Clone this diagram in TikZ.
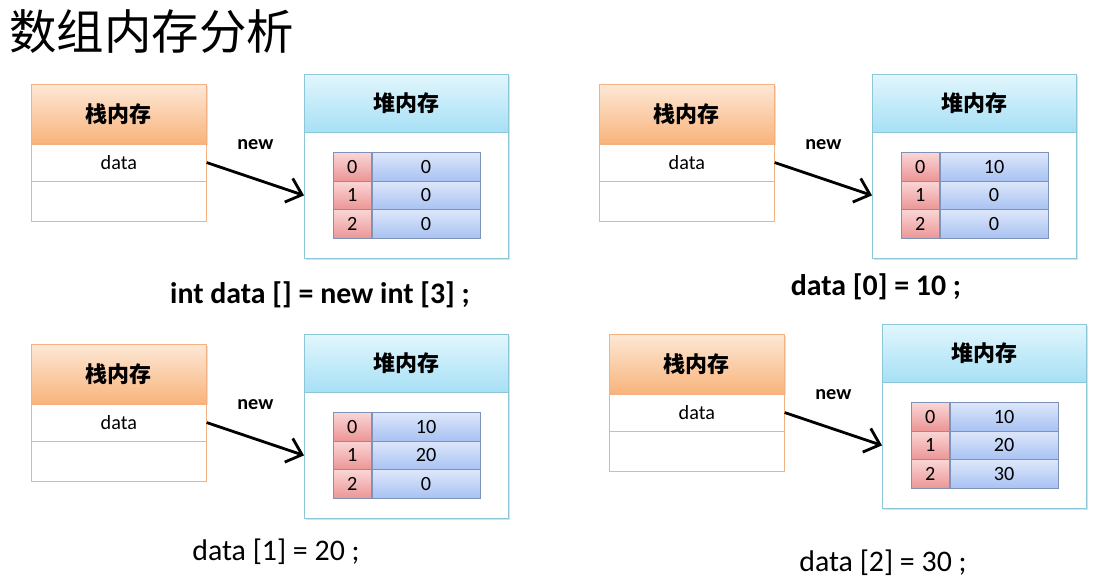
\documentclass[tikz,border=0pt]{standalone}
\usepackage{fontspec}
\setmainfont{Carlito}
\newfontfamily\cjk{Noto Sans CJK SC}
\usetikzlibrary{positioning,arrows.meta,shadows}

\definecolor{stackline}{HTML}{F4B183}
\definecolor{stacktop}{HTML}{FDE8D6}
\definecolor{stackbot}{HTML}{F8B47C}
\definecolor{heapline}{HTML}{8CC6D8}
\definecolor{heaptop}{HTML}{E2F6FD}
\definecolor{heapbot}{HTML}{A6E0F5}
\definecolor{cellline}{HTML}{7F93B8}
\definecolor{idxtop}{HTML}{FAD6D6}
\definecolor{idxbot}{HTML}{EC9595}
\definecolor{valtop}{HTML}{DDE7FB}
\definecolor{valbot}{HTML}{A8C2F2}

\tikzset{
	boxshadow/.style={drop shadow={shadow xshift=1.2pt, shadow yshift=-1.2pt, opacity=0.25}},
	stackhead/.style={draw=stackline, top color=stacktop, bottom color=stackbot, minimum width=3.5cm, minimum height=1.18cm, inner sep=0pt, font=\cjk\bfseries\fontsize{12.5}{14}\selectfont},
	stackrow/.style={draw=stackline, fill=white, minimum width=3.5cm, minimum height=0.74cm, inner sep=0pt, font=\fontsize{11.5}{13}\selectfont},
	heapbox/.style={draw=heapline, fill=white, boxshadow, minimum width=4.08cm, minimum height=3.68cm, inner sep=0pt},
	heaphead/.style={draw=heapline, top color=heaptop, bottom color=heapbot, minimum width=4.08cm, minimum height=1.16cm, inner sep=0pt, font=\cjk\bfseries\fontsize{12.5}{14}\selectfont},
	idxcell/.style={draw=cellline, top color=idxtop, bottom color=idxbot, minimum width=0.76cm, minimum height=0.574cm, inner sep=0pt, font=\fontsize{11.5}{13}\selectfont},
	valcell/.style={draw=cellline, top color=valtop, bottom color=valbot, minimum width=2.16cm, minimum height=0.574cm, inner sep=0pt, font=\fontsize{11.5}{13}\selectfont},
	newarrow/.style={line width=1.6pt, -{Straight Barb[length=2.8mm,width=5mm]}},
	newlbl/.style={font=\bfseries\fontsize{11.5}{13}\selectfont, inner sep=1pt},
	codelbl/.style={font=\fontsize{17}{20}\selectfont, inner sep=0pt},
	titlelbl/.style={font=\cjk\fontsize{27}{30}\selectfont, inner sep=0pt}
}

\begin{document}
\begin{tikzpicture}[x=0.02cm, y=-0.02cm]
\fill[white] (0,0) rectangle (1093,582);
\useasboundingbox (0,0) rectangle (1093,582);

\node[titlelbl, anchor=west] (title) at (9,32) {数组内存分析};

% one panel per step: stack, heap with array, arrow
\foreach \px/\py/\va/\vb/\vc/\pn in {31/84/0/0/0/a, 599/84/10/0/0/b, 31/344/10/20/0/c, 609/334/10/20/30/d} {
	\node[heapbox, anchor=north west] (hb\pn) at (\px+273,\py-10) {};
	\node[heaphead, anchor=north west] (hh\pn) at (hb\pn.north west) {堆内存};
	\foreach \rw/\val in {0/\va,1/\vb,2/\vc} {
		\node[idxcell, anchor=north west] (i\pn\rw) at (\px+302,\py+68+28.7*\rw) {\rw};
		\node[valcell, right=0pt of i\pn\rw] (v\pn\rw) {\val};
	}
	\node[stackhead, boxshadow, anchor=north west] (sh\pn) at (\px,\py) {栈内存};
	\node[stackrow, below=0pt of sh\pn] (sd\pn) {data};
	\node[stackrow, below=0pt of sd\pn, minimum height=0.8cm] (se\pn) {};
	\draw[newarrow] (sd\pn.east) -- (hb\pn.west |- i\pn1.center) node[newlbl, midway, above=0.52cm] {new};
}

\node[codelbl, font=\bfseries\fontsize{17}{20}\selectfont] (codea) at (320,295) {int data [] = new int [3] ;};
\node[codelbl, font=\bfseries\fontsize{17}{20}\selectfont] (codeb) at (876,287) {data [0] = 10 ;};
\node[codelbl] (codec) at (276,552) {data [1] = 20 ;};
\node[codelbl] (coded) at (883,563) {data [2] = 30 ;};
\end{tikzpicture}
\end{document}
